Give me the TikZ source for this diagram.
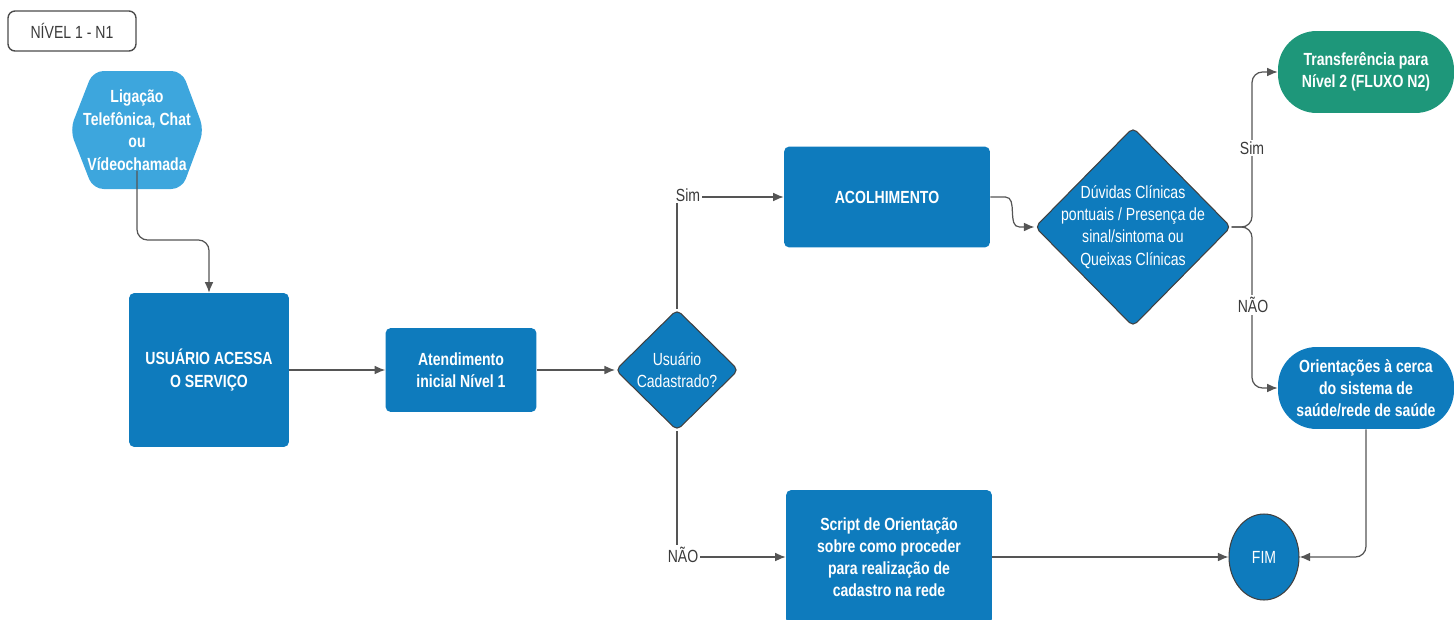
\documentclass[tikz,border=0pt]{standalone}
\usepackage{fontspec}
\setmainfont[FakeStretch=0.8]{Liberation Sans}
\usetikzlibrary{arrows.meta,shapes.geometric}
\definecolor{azul}{HTML}{0E7BBD}
\definecolor{azulclaro}{HTML}{3DA6DD}
\definecolor{verde}{HTML}{1E977A}
\definecolor{linha}{HTML}{555555}
\definecolor{cinza}{HTML}{3A3A3A}

\begin{document}
\begin{tikzpicture}[x=0.02cm,y=-0.02cm,
  every node/.style={font=\fontsize{10}{12.6}\selectfont},
  caixa/.style={fill=azul,rounded corners=3pt,text=white,font=\fontsize{10}{12.6}\selectfont\bfseries,align=center,inner sep=0pt},
  pilula/.style={caixa,fill=#1,rounded corners=22pt,minimum width=3.52cm,minimum height=1.64cm},
  decisao/.style={diamond,aspect=1,fill=azul,draw=black!75,line width=0.6pt,rounded corners=3pt,inner sep=0pt},
  dtexto/.style={text=white,align=center,inner sep=0pt},
  rotulo/.style={fill=white,text=cinza,inner sep=1pt},
  conn/.style={draw=linha,line width=0.7pt,-{Latex[length=6pt,width=5pt]}}]
\useasboundingbox (0,0) rectangle (1454,619);
\draw (72,31) node[draw=black!70,line width=0.8pt,fill=white,rounded corners=4pt,minimum width=2.56cm,minimum height=0.8cm,text=cinza](nivel) {NÍVEL 1 - N1};
% hexagono de entrada
\fill[azulclaro,rounded corners=6pt] (70,130) -- (93,71) -- (182,71) -- (204,130) -- (182,189) -- (93,189) -- cycle;
\draw (137,130) node[text=white,font=\fontsize{10}{12.8}\selectfont\bfseries,align=center,inner sep=0pt](canal) {Ligação\\Telefônica, Chat\\ou\\Vídeochamada};
\draw (209,370) node[caixa,minimum width=3.2cm,minimum height=3.08cm](acessa) {USUÁRIO ACESSA\\O SERVIÇO};
\draw (461,370) node[caixa,minimum width=3.02cm,minimum height=1.68cm](inicial) {Atendimento\\inicial Nível 1};
\draw (677,370) node[decisao,minimum width=2.46cm,minimum height=2.42cm,label={[dtexto]center:{Usuário\\Cadastrado?}}](cadastro) {};
\draw (887,197) node[caixa,minimum width=4.12cm,minimum height=2.02cm](acolhe) {ACOLHIMENTO};
\draw (1133,227) node[decisao,minimum width=3.92cm,minimum height=3.98cm,label={[dtexto]center:{Dúvidas Clínicas\\pontuais / Presença de\\sinal/sintoma ou\\Queixas Clínicas}}](duvida) {};
\draw (1366,72) node[pilula=verde](nivel2) {Transferência para\\Nível 2 (FLUXO N2)};
\draw (1366,388) node[pilula=azul](orienta) {Orientações à cerca\\do sistema de\\saúde/rede de saúde};
\draw (889,557) node[caixa,minimum width=4.12cm,minimum height=2.68cm](script) {Script de Orientação\\sobre como proceder\\para realização de\\cadastro na rede};
\draw (1264,557) node[ellipse,fill=azul,draw=black!75,line width=0.6pt,minimum width=1.4cm,minimum height=1.72cm,text=white](fim) {FIM};
\draw[conn,rounded corners=6pt] (canal.south) |- (209,240) -- (acessa.north);
\draw[conn] (acessa.east |- inicial) -- (inicial.west);
\draw[conn] (inicial.east) -- (cadastro.west);
\draw[conn] (cadastro.north) |- (acolhe.west);
\draw[conn] (cadastro.south) |- (script.west);
\draw[conn] (acolhe.east) -- ++(15,0) to[out=0,in=180] ([xshift=-0.3cm]duvida.west) -- (duvida.west);
\draw[conn,rounded corners=6pt] (duvida.east) -- (1252,227) |- (nivel2.west);
\draw[conn,rounded corners=6pt] (duvida.east) -- (1252,227) |- (orienta.west);
\draw[conn] (script.east) -- (fim.west);
\draw[conn,rounded corners=6pt] (orienta.south) |- (fim.east);
\draw (688,195) node[rotulo](sim1) {Sim};
\draw (683,555) node[rotulo](nao1) {NÃO};
\draw (1252,148) node[rotulo](sim2) {Sim};
\draw (1253,305) node[rotulo](nao2) {NÃO};
\end{tikzpicture}
\end{document}
